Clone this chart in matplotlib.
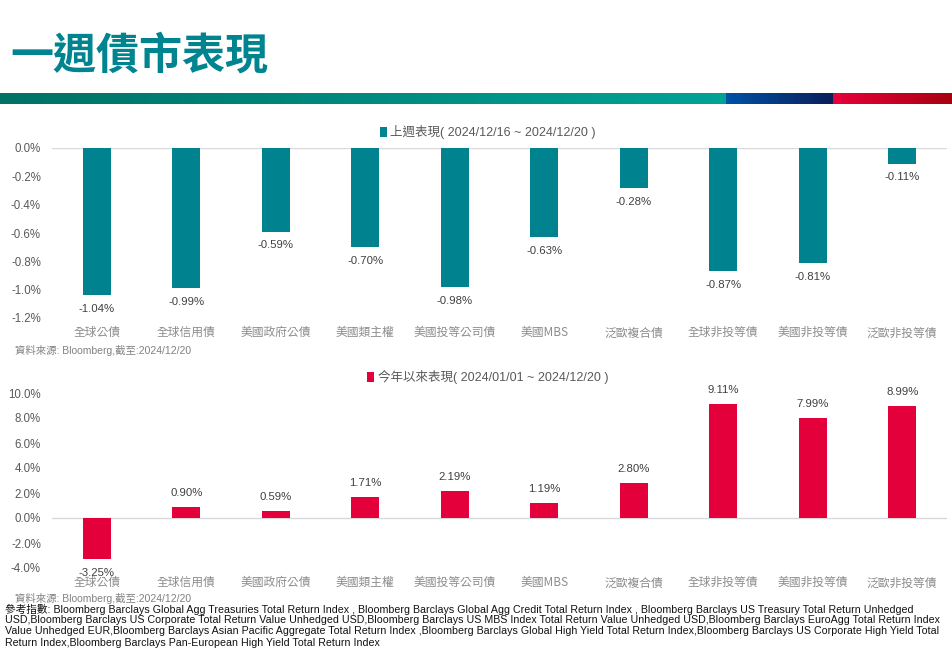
import matplotlib
matplotlib.use("Agg")
import matplotlib.pyplot as plt
import numpy as np
from matplotlib.colors import LinearSegmentedColormap

plt.rcParams["font.family"] = ["Liberation Sans", "Noto Sans CJK TC"]

categories = ["全球公債", "全球信用債", "美國政府公債", "美國類主權", "美國投等公司債",
              "美國MBS", "泛歐複合債", "全球非投等債", "美國非投等債", "泛歐非投等債"]
weekly = [-1.04, -0.99, -0.59, -0.70, -0.98, -0.63, -0.28, -0.87, -0.81, -0.11]
ytd = [-3.25, 0.90, 0.59, 1.71, 2.19, 1.19, 2.80, 9.11, 7.99, 8.99]
weekly_ticks = [0.0, -0.2, -0.4, -0.6, -0.8, -1.0, -1.2]
ytd_ticks = [10.0, 8.0, 6.0, 4.0, 2.0, 0.0, -2.0, -4.0]

weekly_label = "上週表現( 2024/12/16 ~ 2024/12/20 )"
ytd_label = "今年以來表現( 2024/01/01 ~ 2024/12/20 )"
source = "資料來源: Bloomberg,截至:2024/12/20"
notes = [
    "參考指數: Bloomberg Barclays Global Agg Treasuries Total Return Index , Bloomberg Barclays Global Agg Credit Total Return Index , Bloomberg Barclays US Treasury Total Return Unhedged",
    "USD,Bloomberg Barclays US Corporate Total Return Value Unhedged USD,Bloomberg Barclays US MBS Index Total Return Value Unhedged USD,Bloomberg Barclays EuroAgg Total Return Index",
    "Value Unhedged EUR,Bloomberg Barclays Asian Pacific Aggregate Total Return Index ,Bloomberg Barclays Global High Yield Total Return Index,Bloomberg Barclays US Corporate High Yield Total",
    "Return Index,Bloomberg Barclays Pan-European High Yield Total Return Index",
]

TEAL = "#00838F"
RED = "#E4003A"
W, H = 953, 648

fig = plt.figure(figsize=(W / 100, H / 100), dpi=100)

# title + colour band
fig.text(10 / W, 1 - 56 / H, "一週債市表現", fontsize=31, fontweight="bold", color="#00848F",
         family=["Noto Sans CJK TC"], va="center", ha="left")
band = fig.add_axes([0, 1 - 104 / H, 1, 11 / H])
band.axis("off")
cmap = LinearSegmentedColormap.from_list("band", [
    (0.0, "#007266"), (727 / W, "#00A397"), (728 / W, "#0052A5"),
    (834 / W, "#0B1E5A"), (835 / W, "#E8003C"), (1.0, "#A8000F")])
band.imshow(np.linspace(0, 1, 953)[None, :], aspect="auto", cmap=cmap, extent=(0, 1, 0, 1))


def panel(ax, vals, ticks, color, label, fmt):
    x = np.arange(len(vals))
    ax.bar(x, vals, width=0.31, color=color, label=label, zorder=2)
    ax.set_xlim(-0.5, len(vals) - 0.5)
    ax.set_ylim(min(ticks), max(ticks))
    ax.set_yticks(ticks)
    ax.set_yticklabels([fmt.format(t) for t in ticks], fontsize=8.3, color="#595959")
    ax.set_xticks(x)
    ax.set_xticklabels(categories, fontsize=8.5, color="#8C8C8C", family=["Noto Sans CJK TC"])
    ax.tick_params(axis="both", length=0)
    ax.tick_params(axis="y", pad=8)
    ax.tick_params(axis="x", pad=6)
    for s in ax.spines.values():
        s.set_visible(False)
    ax.axhline(0, color="#D9D9D9", lw=1, zorder=1)
    for xi, v in zip(x, vals):
        ax.annotate(f"{v:.2f}%", (xi, v), xytext=(0, 10 if v >= 0 else -10),
                    textcoords="offset points", ha="center", va="center",
                    fontsize=8.2, color="#404040", annotation_clip=False)
    leg = ax.legend(loc="lower center", bbox_to_anchor=(0.487, 1.0), frameon=False,
                    handlelength=0.55, handleheight=0.9, handletextpad=0.3,
                    prop={"size": 9, "family": ["Liberation Sans", "Noto Sans CJK TC"]},
                    borderaxespad=0.3)
    for t in leg.get_texts():
        t.set_color("#595959")


ax1 = fig.add_axes([52 / W, 1 - 318 / H, 895 / W, 170 / H])
panel(ax1, weekly, weekly_ticks, TEAL, weekly_label, "{:.1f}%")
ax2 = fig.add_axes([52 / W, 1 - 568 / H, 895 / W, 175 / H])
panel(ax2, ytd, ytd_ticks, RED, ytd_label, "{:.1f}%")

fig.text(15 / W, 1 - 350 / H, source, fontsize=7.5, color="#808080", va="center")
fig.text(15 / W, 1 - 598 / H, source, fontsize=7.5, color="#808080", va="center")

for i, line in enumerate(notes):
    fig.text(5 / W, 1 - (609 + i * 11.2) / H, line, fontsize=7.7, color="#111111", va="center")

fig.savefig("out.png", dpi=100)
